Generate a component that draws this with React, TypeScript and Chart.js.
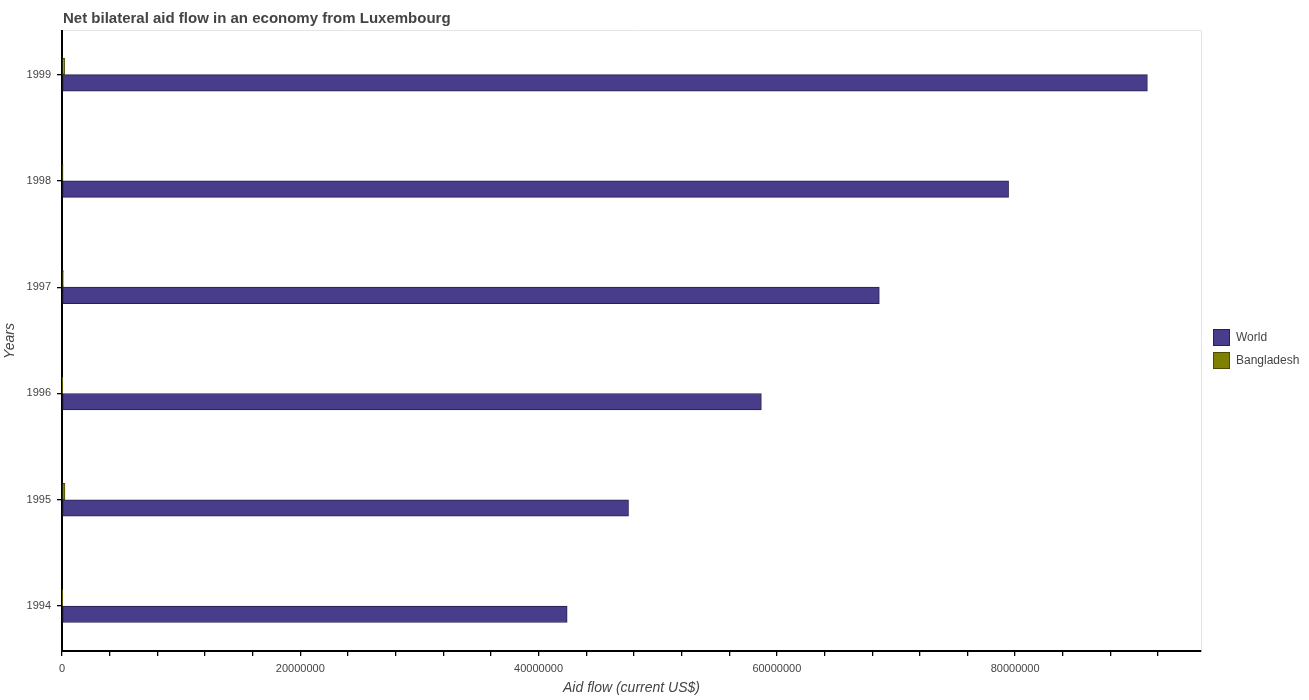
import React, { useEffect, useRef } from "react";
import { Chart, registerables } from "chart.js";

Chart.register(...registerables);

const years = [1994, 1995, 1996, 1997, 1998, 1999];
const worldValues = [42400000, 47550000, 58700000, 68600000, 79450000, 91100000];
const bangladeshValues = [30000, 250000, 10000, 120000, 90000, 220000];
const xTickValues = [
  0, 4000000, 8000000, 12000000, 16000000, 20000000, 24000000, 28000000, 32000000,
  36000000, 40000000, 44000000, 48000000, 52000000, 56000000, 60000000, 64000000,
  68000000, 72000000, 76000000, 80000000, 84000000, 88000000, 92000000,
];
const xTickLabels = ["0", "20000000", "40000000", "60000000", "80000000"];

const TITLE = "Net bilateral aid flow in an economy from Luxembourg";
const WORLD_COLOR = "#483D8B";
const WORLD_BORDER = "#26214f";
const BD_COLOR = "#808000";
const BD_BORDER = "#4a4a00";

const decorPlugin = {
  id: "decor",
  afterDraw(chart: any) {
    const { ctx, chartArea } = chart;
    ctx.save();
    ctx.strokeStyle = "#e4e4e4";
    ctx.lineWidth = 1;
    ctx.beginPath();
    ctx.moveTo(chartArea.left + 1, chartArea.top - 0.5);
    ctx.lineTo(chartArea.right + 0.5, chartArea.top - 0.5);
    ctx.lineTo(chartArea.right + 0.5, chartArea.bottom - 1);
    ctx.stroke();
    ctx.fillStyle = "#444444";
    ctx.font = "bold 15px 'Liberation Sans', Arial, sans-serif";
    ctx.textAlign = "left";
    ctx.textBaseline = "middle";
    ctx.fillText(TITLE, chartArea.left + 1, 19);
    const items = [
      { label: "World", fill: WORLD_COLOR, stroke: WORLD_BORDER, y: 329.5 },
      { label: "Bangladesh", fill: BD_COLOR, stroke: BD_BORDER, y: 352.5 },
    ];
    ctx.font = "12px 'Liberation Sans', Arial, sans-serif";
    items.forEach((it) => {
      ctx.fillStyle = it.fill;
      ctx.fillRect(1213.5, it.y, 16, 16);
      ctx.strokeStyle = it.stroke;
      ctx.lineWidth = 1;
      ctx.strokeRect(1213.5, it.y, 16, 16);
      ctx.fillStyle = "#444444";
      ctx.fillText(it.label, 1236, it.y + 8.5);
    });
    ctx.restore();
  },
};

export default function App() {
  const canvasRef = useRef<HTMLCanvasElement | null>(null);

  useEffect(() => {
    document.body.style.margin = "0";
    const canvas = canvasRef.current;
    if (!canvas) return;
    const chart = new Chart(canvas, {
      type: "bar",
      data: {
        datasets: [
          {
            label: "Bangladesh",
            data: years.map((y, i) => ({ x: bangladeshValues[i], y })),
            backgroundColor: BD_COLOR,
            borderColor: BD_BORDER,
            borderWidth: 1,
            borderSkipped: false,
          },
          {
            label: "World",
            data: years.map((y, i) => ({ x: worldValues[i], y })),
            backgroundColor: WORLD_COLOR,
            borderColor: WORLD_BORDER,
            borderWidth: 1,
            borderSkipped: false,
          },
        ],
      },
      options: {
        indexAxis: "y",
        responsive: false,
        animation: false,
        devicePixelRatio: 1,
        barThickness: 16.5,
        layout: { padding: { top: 31, right: 108, left: 0, bottom: 0 } },
        plugins: {
          legend: { display: false },
          title: { display: false },
          tooltip: { enabled: false },
        },
        scales: {
          x: {
            type: "linear",
            min: 0,
            max: 95600000,
            offset: false,
            afterFit: (scale: any) => {
              scale.height = 49;
            },
            afterBuildTicks: (scale: any) => {
              scale.ticks = xTickValues.map((v) => ({ value: v }));
            },
            ticks: {
              autoSkip: false,
              maxRotation: 0,
              minRotation: 0,
              padding: 6,
              color: "#444444",
              font: { size: 11, family: "'Liberation Sans', Arial, sans-serif" },
              callback: (v: any) => {
                const s = String(v);
                return xTickLabels.includes(s) ? s : "";
              },
            },
            grid: {
              offset: false,
              drawOnChartArea: false,
              drawTicks: true,
              tickLength: 5,
              lineWidth: 1.3,
              color: "#000000",
            },
            border: { color: "#000000", width: 2 },
            title: {
              display: true,
              text: "Aid flow (current US$)",
              color: "#444444",
              font: { size: 14, style: "italic", family: "'Liberation Sans', Arial, sans-serif" },
              padding: { top: 0, bottom: 3 },
            },
          },
          y: {
            type: "linear",
            min: 1993.577,
            max: 1999.41,
            offset: false,
            afterFit: (scale: any) => {
              scale.width = 62;
            },
            afterBuildTicks: (scale: any) => {
              scale.ticks = years.map((y) => ({ value: y }));
            },
            ticks: {
              autoSkip: false,
              padding: 6,
              color: "#444444",
              font: { size: 11, family: "'Liberation Sans', Arial, sans-serif" },
              callback: (v: any) => String(v),
            },
            grid: {
              offset: false,
              drawOnChartArea: false,
              drawTicks: true,
              tickLength: 5,
              lineWidth: 1.3,
              color: "#000000",
            },
            border: { color: "#000000", width: 2 },
            title: {
              display: true,
              text: "Years",
              color: "#444444",
              font: { size: 14, style: "italic", family: "'Liberation Sans', Arial, sans-serif" },
              padding: { top: 2, bottom: 0 },
            },
          },
        },
      },
      plugins: [decorPlugin],
    } as any);
    return () => chart.destroy();
  }, []);

  return (
    <div style={{ width: 1309, height: 700 }}>
      <canvas ref={canvasRef} width={1309} height={700} style={{ display: "block" }} />
    </div>
  );
}
